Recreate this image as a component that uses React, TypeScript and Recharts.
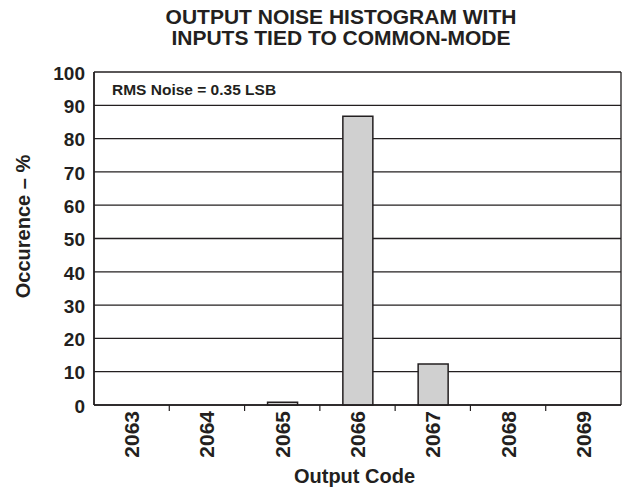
import React from "react";
import { BarChart, Bar, XAxis, YAxis, CartesianGrid, Label } from "recharts";

const codes = ["2063", "2064", "2065", "2066", "2067", "2068", "2069"];
const occurrence = [0, 0, 0.8, 86.7, 12.3, 0, 0];
const yTicks = [0, 10, 20, 30, 40, 50, 60, 70, 80, 90, 100];

const data = codes.map((code, i) => ({ code, value: occurrence[i] }));

const W = 624;
const H = 487;
const MARGIN = { top: 72, right: 3, bottom: 0, left: 0 };
const Y_AXIS_W = 94;
const X_AXIS_H = 82;
const INK = "#231f20";
const FONT = '"Liberation Sans", Arial, Helvetica, sans-serif';
const BAND = (W - MARGIN.left - MARGIN.right - Y_AXIS_W) / codes.length;

function CodeTick(props: any) {
  const { x, y, payload, index } = props;
  const ty = y + 6;
  return (
    <g>
      {index > 0 && (
        <line x1={x - BAND / 2} x2={x - BAND / 2} y1={y} y2={y + 6} stroke={INK} strokeWidth={1.2} />
      )}
      <text
        x={x}
        y={ty}
        dy="0.36em"
        transform={`rotate(-90, ${x}, ${ty})`}
        textAnchor="end"
        fill={INK}
        fontFamily={FONT}
        fontWeight="bold"
        fontSize={21}
      >
        {payload.value}
      </text>
    </g>
  );
}

function YTitle(props: any) {
  const { viewBox } = props;
  const x = viewBox.x + 30;
  const y = viewBox.y + viewBox.height / 2 - 12;
  return (
    <text
      x={x}
      y={y}
      transform={`rotate(-90, ${x}, ${y})`}
      textAnchor="middle"
      fill={INK}
      fontFamily={FONT}
      fontWeight="bold"
      fontSize={20}
    >
      Occurence – %
    </text>
  );
}

export default function App() {
  return (
    <div style={{ position: "absolute", left: 0, top: 0, width: W, height: H, background: "#fff", fontFamily: FONT }}>
      <div
        style={{
          position: "absolute",
          left: 0,
          top: 6,
          width: 682,
          textAlign: "center",
          fontSize: 21,
          fontWeight: "bold",
          lineHeight: "21px",
          color: INK,
        }}
      >
        OUTPUT NOISE HISTOGRAM WITH
        <br />
        INPUTS TIED TO COMMON-MODE
      </div>
      <BarChart width={W} height={H} data={data} margin={MARGIN}>
        <CartesianGrid
          vertical={true}
          horizontal={true}
          stroke={INK}
          strokeWidth={1.3}
          verticalCoordinatesGenerator={({ offset }: any) => [offset.left, offset.left + offset.width]}
        />
        <XAxis
          dataKey="code"
          height={X_AXIS_H}
          axisLine={{ stroke: INK, strokeWidth: 1.5 }}
          tickLine={false}
          tickSize={0}
          tickMargin={0}
          interval={0}
          tick={<CodeTick />}
        >
          <Label
            value="Output Code"
            position="insideBottom"
            offset={4}
            dx={-3}
            fill={INK}
            fontFamily={FONT}
            fontWeight="bold"
            fontSize={20}
          />
        </XAxis>
        <YAxis
          width={Y_AXIS_W}
          domain={[0, 100]}
          ticks={yTicks}
          interval={0}
          axisLine={{ stroke: INK, strokeWidth: 1.5 }}
          tickLine={false}
          tickSize={0}
          tickMargin={9}
          tick={{ fill: INK, fontFamily: FONT, fontWeight: "bold", fontSize: 19, dy: 1 }}
        >
          <Label content={<YTitle />} />
        </YAxis>
        <Bar
          dataKey="value"
          barSize={30}
          fill="#d0d0d0"
          stroke={INK}
          strokeWidth={1.5}
          isAnimationActive={false}
        />
      </BarChart>
      <div
        style={{
          position: "absolute",
          left: 112,
          top: 82,
          fontSize: 15.5,
          fontWeight: "bold",
          lineHeight: "15.5px",
          color: INK,
        }}
      >
        RMS Noise = 0.35 LSB
      </div>
    </div>
  );
}
